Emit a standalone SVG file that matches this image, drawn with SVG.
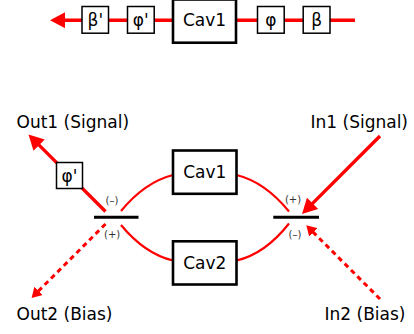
<svg xmlns="http://www.w3.org/2000/svg" width="414" height="334" viewBox="0 0 414 334">
<style>
text{font-family:"DejaVu Sans","Liberation Sans",sans-serif;fill:#000}
.t{font-size:17px;text-anchor:middle}
.lbl{font-size:17px}
.sm{font-size:10px;fill:#333;text-anchor:middle}
.cav{fill:#fff;stroke:#000;stroke-width:2.6}
.box{fill:#fff;stroke:#000;stroke-width:1.5}
.beam{fill:none;stroke:#f00;stroke-width:3.4}
.dash{fill:none;stroke:#f00;stroke-width:3;stroke-dasharray:5 4}
.curve{fill:none;stroke:#f00;stroke-width:2.2}
.bs{stroke:#000;stroke-width:3}
</style>
<defs>
<marker id="ah" markerUnits="userSpaceOnUse" markerWidth="16" markerHeight="16" viewBox="0 0 16 16" refX="5" refY="8" orient="auto">
<path d="M0,0 L15,8 L0,16 z" fill="#f00"/>
</marker>
<marker id="ahs" markerUnits="userSpaceOnUse" markerWidth="12" markerHeight="12" viewBox="0 0 12 12" refX="2" refY="6" orient="auto">
<path d="M0,0 L10,6 L0,12 z" fill="#f00"/>
</marker>
</defs>
<g id="connectors">
<path class="beam" d="M355,20.2 L60,20.2" marker-end="url(#ah)"/>
<path class="beam" d="M105.5,211.5 L35.6,141.6" marker-end="url(#ah)"/>
<path class="beam" d="M380,136 L309.1,206.9" marker-end="url(#ah)"/>
<path class="dash" d="M105.5,224 L37.2,292.3" marker-end="url(#ahs)"/>
<path class="dash" d="M380,299 L312,231" marker-end="url(#ahs)"/>
<path class="curve" d="M121,211 Q145,182 173,175"/>
<path class="curve" d="M121,225 Q145,254 173,260.5"/>
<path class="curve" d="M236.5,175 Q265,182 289,211.5"/>
<path class="curve" d="M236.5,260.5 Q265,254 289,223.5"/>
</g>
<g id="bs-left">
<line class="bs" x1="94" y1="217.2" x2="138.5" y2="217.2"/>
<text class="sm" x="112" y="203.5">(–)</text>
<text class="sm" x="112.2" y="238.3">(+)</text>
</g>
<g id="bs-right">
<line class="bs" x1="273.3" y1="217.2" x2="319" y2="217.2"/>
<text class="sm" x="293" y="202.5">(+)</text>
<text class="sm" x="295" y="238.3">(–)</text>
</g>
<g id="top-beta-prime"><rect class="box" x="82" y="6.5" width="26.5" height="26.7"/><text class="t" x="95.3" y="26">β'</text></g>
<g id="top-phi-prime"><rect class="box" x="127.5" y="6.5" width="26.7" height="26.7"/><text class="t" x="140.8" y="26">φ'</text></g>
<g id="top-cav1"><rect class="cav" x="173" y="-0.5" width="63" height="43.2"/><text class="t" x="204.5" y="26.3">Cav1</text></g>
<g id="top-phi"><rect class="box" x="257.5" y="6.5" width="26.7" height="26.7"/><text class="t" x="270.8" y="26">φ</text></g>
<g id="top-beta"><rect class="box" x="303.2" y="6.5" width="26.8" height="26.7"/><text class="t" x="316.6" y="26">β</text></g>
<g id="cav1"><rect class="cav" x="173" y="150.5" width="63.5" height="43.3"/><text class="t" x="204.8" y="178.3">Cav1</text></g>
<g id="cav2"><rect class="cav" x="173" y="241.3" width="63.5" height="43.2"/><text class="t" x="204.8" y="269">Cav2</text></g>
<g id="phi-prime-out"><rect class="box" x="56.5" y="162.5" width="26" height="26"/><text class="t" x="69.5" y="181.5">φ'</text></g>
<g id="out1"><text class="lbl" x="16.5" y="128.3">Out1 (Signal)</text></g>
<g id="out2"><text class="lbl" x="16.5" y="320">Out2 (Bias)</text></g>
<g id="in1"><text class="lbl" x="408" y="128.3" text-anchor="end">In1 (Signal)</text></g>
<g id="in2"><text class="lbl" x="405.5" y="320" text-anchor="end">In2 (Bias)</text></g>
</svg>
